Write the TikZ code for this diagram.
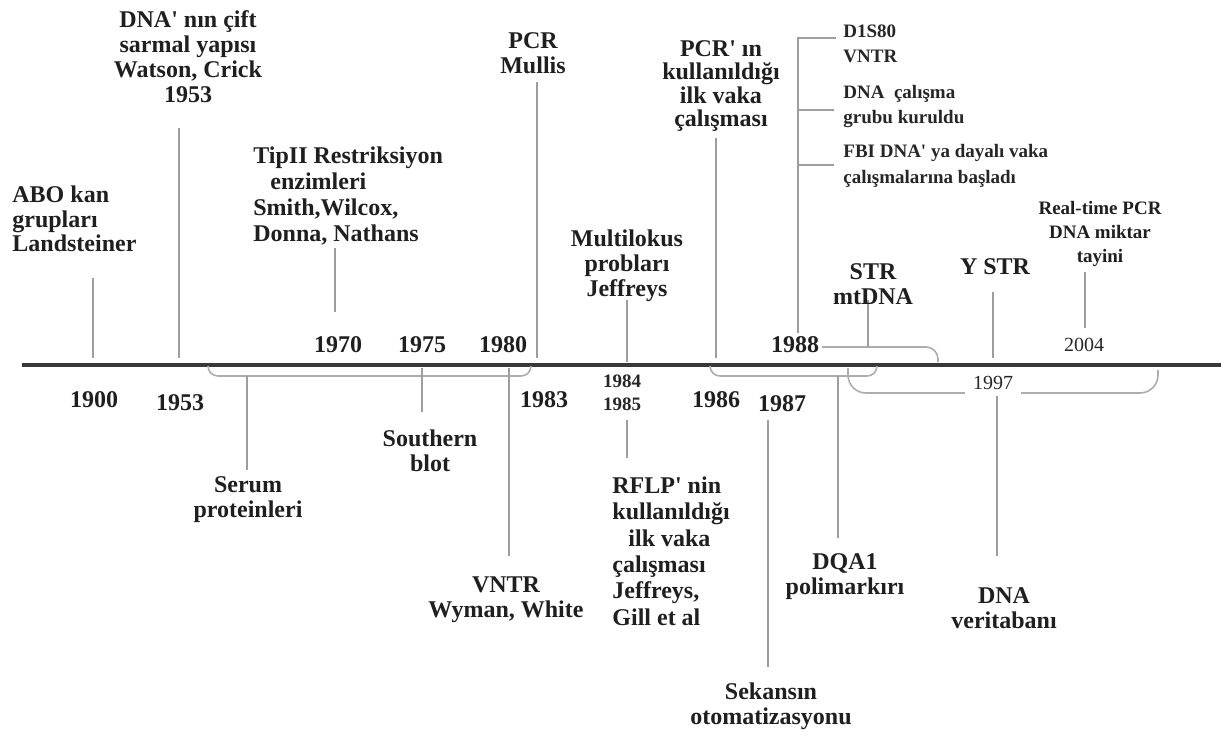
\documentclass[tikz,border=0pt]{standalone}
\usepackage{fontspec}
\setmainfont{Liberation Serif}[Ligatures=TeXOff]
\begin{document}
\begin{tikzpicture}[x=0.5pt,y=-0.5pt,
  lbl/.style={font=\fontsize{12}{12.5}\selectfont\bfseries, align=center, inner sep=0pt, text=black!88},
  sml/.style={font=\fontsize{9.5}{12.5}\selectfont\bfseries, align=left, inner sep=0pt, anchor=west, text=black!85},
  yr/.style={font=\fontsize{12}{13}\selectfont\bfseries, inner sep=0pt, text=black!88},
  yrs/.style={font=\fontsize{10}{12}\selectfont, inner sep=0pt, text=black!85},
  tick/.style={draw=black!38, line width=1pt},
  brk/.style={draw=black!32, line width=0.8pt, rounded corners=5pt},
  axis/.style={draw=black!78, line width=2pt}]
\useasboundingbox (0,0) rectangle (1221,736);

% axis
\coordinate (axL) at (22,365);
\coordinate (axR) at (1221,365);
\draw[axis] (axL) -- (axR);

% brackets
\coordinate (b1a) at (208,366); \coordinate (b1b) at (208,376);
\coordinate (b1c) at (531,376); \coordinate (b1d) at (531,366);
\draw[brk] (b1a) -- (b1b) -- (b1c) -- (b1d);
\coordinate (b2a) at (710,366); \coordinate (b2b) at (710,376);
\coordinate (b2c) at (877,376); \coordinate (b2d) at (877,366);
\draw[brk] (b2a) -- (b2b) -- (b2c) -- (b2d);
\coordinate (b3a) at (848,368); \coordinate (b3b) at (848,393);
\coordinate (b3c) at (1158,393); \coordinate (b3d) at (1158,370);
\draw[brk, rounded corners=9pt] (b3a) -- (b3b) -- (b3c) -- (b3d);
\coordinate (b4a) at (822,347); \coordinate (b4b) at (938,347);
\coordinate (b4c) at (938,362);
\draw[brk, rounded corners=6pt] (b4a) -- (b4b) -- (b4c);

% 1988 group bracket
\coordinate (g0) at (798,333);
\coordinate (g1) at (798,38);  \coordinate (g1e) at (836,38);
\coordinate (g2) at (798,110); \coordinate (g2e) at (834,110);
\coordinate (g3) at (798,165); \coordinate (g3e) at (834,165);
\draw[tick] (g1e) -- (g1) -- (g0);
\draw[tick] (g2) -- (g2e);
\draw[tick] (g3) -- (g3e);

% ticks above
\coordinate (t1a) at (93,278);   \coordinate (t1b) at (93,358);
\coordinate (t2a) at (179,128);  \coordinate (t2b) at (179,358);
\coordinate (t3a) at (335,248);  \coordinate (t3b) at (335,312);
\coordinate (t4a) at (537,82);   \coordinate (t4b) at (537,358);
\coordinate (t5a) at (716,138);  \coordinate (t5b) at (716,358);
\coordinate (t6a) at (627,300);  \coordinate (t6b) at (627,362);
\coordinate (t7a) at (868,300);  \coordinate (t7b) at (868,347);
\coordinate (t8a) at (993,292);  \coordinate (t8b) at (993,358);
\coordinate (t9a) at (1085,272); \coordinate (t9b) at (1085,328);
\foreach \i in {1,...,9} {\draw[tick] (t\i a) -- (t\i b);}

% ticks below
\coordinate (u1a) at (247,376);  \coordinate (u1b) at (247,470);
\coordinate (u2a) at (422,368);  \coordinate (u2b) at (422,412);
\coordinate (u3a) at (509,368);  \coordinate (u3b) at (509,556);
\coordinate (u4a) at (627,420);  \coordinate (u4b) at (627,458);
\coordinate (u5a) at (768,420);  \coordinate (u5b) at (768,667);
\coordinate (u6a) at (838,376);  \coordinate (u6b) at (838,538);
\coordinate (u7a) at (997,395);  \coordinate (u7b) at (997,556);
\foreach \i in {1,...,7} {\draw[tick] (u\i a) -- (u\i b);}

% labels above
\node[lbl, align=left, anchor=west, font=\fontsize{12}{12.3}\selectfont\bfseries] (abo) at (12,219) {ABO kan\\grupları\\Landsteiner};
\node[lbl] (dna53) at (188,57) {DNA' nın çift\\sarmal yapısı\\Watson, Crick\\1953};
\node[lbl, align=left, anchor=west, font=\fontsize{12}{13}\selectfont\bfseries] (tip) at (253,196) {TipII Restriksiyon\\\hspace*{8.5pt}enzimleri\\Smith,Wilcox,\\Donna, Nathans};
\node[lbl] (pcr) at (533,53) {PCR\\Mullis};
\node[lbl, font=\fontsize{12}{11.8}\selectfont\bfseries] (pcr86) at (721,86) {PCR' ın\\kullanıldığı\\ilk vaka\\çalışması};
\node[sml] (d1) at (843,44) {D1S80\\VNTR};
\node[sml] (d2) at (843,106) {DNA\ \ çalışma\\grubu kuruldu};
\node[sml, font=\fontsize{9.5}{13}\selectfont\bfseries] (d3) at (843,166) {FBI DNA' ya dayalı vaka\\çalışmalarına başladı};
\node[lbl] (multi) at (627,266) {Multilokus\\probları\\Jeffreys};
\node[lbl] (str) at (873,284) {STR\\mtDNA};
\node[lbl] (ystr) at (995,267) {Y STR};
\node[lbl, font=\fontsize{9.5}{12}\selectfont\bfseries] (rt) at (1100,234) {Real-time PCR\\DNA miktar\\tayini};

% years
\node[yr] (y1970) at (338,345) {1970};
\node[yr] (y1975) at (422,345) {1975};
\node[yr] (y1980) at (503,345) {1980};
\node[yr] (y1988) at (795,345) {1988};
\node[yrs] (y2004) at (1084,345) {2004};
\node[yr] (y1900) at (94,400) {1900};
\node[yr] (y1953) at (180,403) {1953};
\node[yr] (y1983) at (544,400) {1983};
\node[yrs, align=center, font=\fontsize{9.5}{11.5}\selectfont\bfseries] (y8485) at (622,393) {1984\\1985};
\node[yr] (y1986) at (716,400) {1986};
\node[yr] (y1987) at (782,404) {1987};
\node[yrs, fill=white, minimum height=13pt, minimum width=28pt] (y1997) at (993,383) {1997};

% labels below
\node[lbl] (serum) at (248,500) {Serum\\proteinleri};
\node[lbl] (southern) at (430,451) {Southern\\blot};
\node[lbl] (vntr) at (506,600) {VNTR\\Wyman, White};
\node[lbl, align=left, anchor=west, font=\fontsize{12}{13.2}\selectfont\bfseries] (rflp) at (612,551) {RFLP' nin\\kullanıldığı\\\hspace*{8pt}ilk vaka\\çalışması\\Jeffreys,\\Gill et al};
\node[lbl] (sek) at (771,706) {Sekansın\\otomatizasyonu};
\node[lbl] (dqa) at (845,577) {DQA1\\polimarkırı};
\node[lbl] (dnaver) at (1004,608) {DNA\\veritabanı};
\end{tikzpicture}
\end{document}
